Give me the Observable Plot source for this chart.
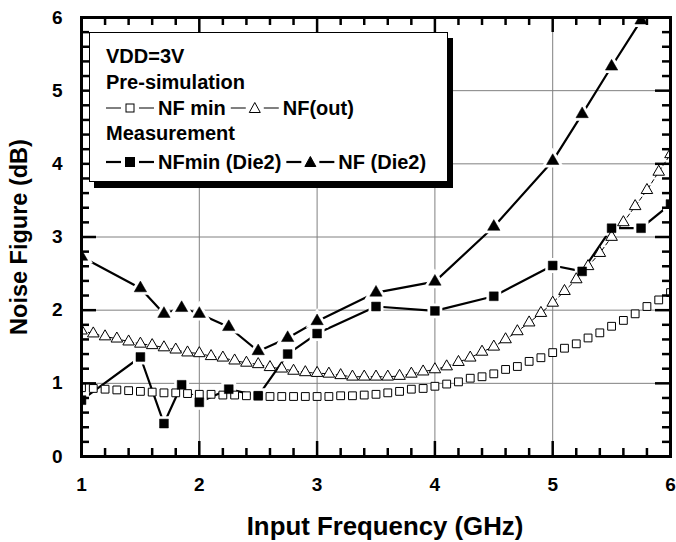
<!DOCTYPE html>
<html>
<head>
<meta charset="utf-8">
<script src="https://cdn.jsdelivr.net/npm/d3@7"></script>
<script src="https://cdn.jsdelivr.net/npm/@observablehq/plot@0.6"></script>
<style>
  body { margin: 0; background: #fff; }
  #chart { width: 676px; height: 542px; }
</style>
</head>
<body>
<div id="chart"></div>
<script>
// ---- data ----
const freqSim = [1.0,1.1,1.2,1.3,1.4,1.5,1.6,1.7,1.8,1.9,2.0,2.1,2.2,2.3,2.4,2.5,2.6,2.7,2.8,2.9,3.0,
                 3.1,3.2,3.3,3.4,3.5,3.6,3.7,3.8,3.9,4.0,4.1,4.2,4.3,4.4,4.5,4.6,4.7,4.8,4.9,5.0,
                 5.1,5.2,5.3,5.4,5.5,5.6,5.7,5.8,5.9,6.0];
const nfMinSim = [0.94,0.93,0.92,0.91,0.90,0.89,0.88,0.87,0.87,0.86,0.85,0.85,0.84,0.84,0.83,0.83,0.82,0.82,0.82,0.82,0.82,
                  0.82,0.83,0.83,0.84,0.85,0.87,0.89,0.92,0.93,0.96,0.99,1.02,1.07,1.09,1.13,1.19,1.23,1.30,1.35,1.42,
                  1.48,1.54,1.62,1.69,1.78,1.86,1.95,2.05,2.14,2.24];
const nfOutSim = [1.72,1.68,1.64,1.61,1.57,1.54,1.52,1.49,1.46,1.42,1.41,1.37,1.35,1.31,1.28,1.26,1.22,1.20,1.17,1.15,1.14,
                  1.13,1.11,1.09,1.09,1.09,1.09,1.10,1.13,1.16,1.19,1.23,1.29,1.35,1.43,1.50,1.60,1.71,1.83,1.96,2.10,
                  2.26,2.42,2.60,2.78,3.00,3.20,3.42,3.64,3.89,4.13];

const freqMeasMin = [1.0,1.5,1.7,1.85,2.0,2.25,2.5,2.75,3.0,3.5,4.0,4.5,5.0,5.25,5.5,5.75,6.0];
const nfMinDie2   = [0.77,1.36,0.45,0.98,0.74,0.92,0.83,1.40,1.68,2.05,1.99,2.19,2.61,2.53,3.12,3.12,3.45];
const freqMeasNF  = [1.0,1.5,1.7,1.85,2.0,2.25,2.5,2.75,3.0,3.5,4.0,4.5,5.0,5.25,5.5,5.75];
const nfDie2      = [2.73,2.30,1.95,2.03,1.95,1.77,1.44,1.62,1.85,2.24,2.39,3.14,4.04,4.68,5.33,5.96];

const xMajor = [1,2,3,4,5,6];
const xMinor = [1.2,1.4,1.6,1.8,2.2,2.4,2.6,2.8,3.2,3.4,3.6,3.8,4.2,4.4,4.6,4.8,5.2,5.4,5.6,5.8];
const yMajor = [0,1,2,3,4,5,6];
const yMinor = [0.2,0.4,0.6,0.8,1.2,1.4,1.6,1.8,2.2,2.4,2.6,2.8,3.2,3.4,3.6,3.8,4.2,4.4,4.6,4.8,5.2,5.4,5.6,5.8];

const xTitle = "Input Frequency (GHz)";
const yTitle = "Noise Figure (dB)";
const legendHead = ["VDD=3V", "Pre-simulation", "Measurement"];
const legendSim = ["NF min", "NF(out)"];
const legendMeas = ["NFmin (Die2)", "NF (Die2)"];

// ---- tables ----
const simMin = freqSim.map((f, i) => ({f, v: nfMinSim[i]}));
const simOut = freqSim.map((f, i) => ({f, v: nfOutSim[i]}));
const measMin = freqMeasMin.map((f, i) => ({f, v: nfMinDie2[i]}));
const measNF = freqMeasNF.map((f, i) => ({f, v: nfDie2[i]}));

// ---- layout ----
const W = 676, H = 542, mT = 17, mR = 6, mB = 86, mL = 81;
const FW = W - mL - mR, FH = H - mT - mB;
const tk = {stroke: "#000", strokeWidth: 2.5};
const tickMarks = [
  Plot.ruleX(xMajor, {x: d => d, insetTop: FH - 15, ...tk}),
  Plot.ruleX(xMinor, {x: d => d, insetTop: FH - 8, ...tk}),
  Plot.ruleX(xMajor, {x: d => d, insetBottom: FH - 15, ...tk}),
  Plot.ruleX(xMinor, {x: d => d, insetBottom: FH - 8, ...tk}),
  Plot.ruleY(yMajor, {y: d => d, insetRight: FW - 15, ...tk}),
  Plot.ruleY(yMinor, {y: d => d, insetRight: FW - 8, ...tk}),
  Plot.ruleY(yMajor, {y: d => d, insetLeft: FW - 15, ...tk}),
  Plot.ruleY(yMinor, {y: d => d, insetLeft: FW - 8, ...tk})
];

const chart = Plot.plot({
  width: W, height: H,
  marginTop: mT, marginRight: mR, marginBottom: mB, marginLeft: mL,
  x: {domain: [1, 6]},
  y: {domain: [0, 6]},
  style: {fontFamily: "'Liberation Sans', Arial, sans-serif", fontSize: "19px", fontWeight: "bold", color: "black", background: "white", overflow: "visible"},
  marks: [
    Plot.gridX(xMajor, {stroke: "#808080", strokeOpacity: 1, strokeWidth: 1}),
    Plot.gridY(yMajor, {stroke: "#808080", strokeOpacity: 1, strokeWidth: 1}),
    Plot.line(simOut, {x: "f", y: "v", stroke: "black", strokeWidth: 1, strokeDasharray: "4,3", clip: true}),
    Plot.line(measMin, {x: "f", y: "v", stroke: "black", strokeWidth: 2.2, clip: true}),
    Plot.line(measNF, {x: "f", y: "v", stroke: "black", strokeWidth: 2.2, clip: true}),
    Plot.dot(measMin, {x: "f", y: "v", symbol: "square", r: 5, fill: "white", stroke: "white", strokeWidth: 6, clip: true}),
    Plot.dot(measNF, {x: "f", y: "v", symbol: "triangle", r: 4.6, fill: "white", stroke: "white", strokeWidth: 6, clip: true}),
    Plot.dot(simMin, {x: "f", y: "v", symbol: "square", r: 4.4, fill: "white", stroke: "black", strokeWidth: 1, clip: true}),
    Plot.dot(simOut, {x: "f", y: "v", symbol: "triangle", r: 4.3, fill: "white", stroke: "black", strokeWidth: 1, clip: true}),
    Plot.dot(measMin, {x: "f", y: "v", symbol: "square", r: 5, fill: "black", stroke: "black", strokeWidth: 0.5, clip: true}),
    Plot.dot(measNF, {x: "f", y: "v", symbol: "triangle", r: 4.6, fill: "black", stroke: "black", strokeWidth: 0.5, clip: true}),
    Plot.axisX({ticks: xMajor, tickSize: 0, tickPadding: 21, tickFormat: d => d, label: null}),
    Plot.axisY({ticks: yMajor, tickSize: 0, tickPadding: 19, tickFormat: d => d, label: null}),
    ...tickMarks,
    Plot.frame({stroke: "black", strokeWidth: 3}),
    Plot.text([xTitle], {text: d => d, frameAnchor: "bottom", lineAnchor: "middle", textAnchor: "middle", dy: 70, dx: 9, fontSize: 25.8, fontWeight: "bold"}),
    Plot.text([yTitle], {text: d => d, frameAnchor: "left", lineAnchor: "middle", textAnchor: "middle", rotate: -90, dx: -62, fontSize: 23.5, fontWeight: "bold"})
  ]
});
document.getElementById("chart").appendChild(chart);

// ---- legend, drawn inside the same SVG ----
const L = {x: 89, y: 32, w: 359, h: 150, sx: 5, sy: 6, textX: 106};
const lg = d3.select(chart).append("g").attr("aria-label", "legend")
  .attr("font-family", "'Liberation Sans', Arial, sans-serif").attr("font-size", 20).attr("font-weight", "bold");
lg.append("rect").attr("x", L.x + L.sx).attr("y", L.y + L.sy).attr("width", L.w).attr("height", L.h).attr("fill", "#000");
lg.append("rect").attr("x", L.x + 0.5).attr("y", L.y + 0.5).attr("width", L.w - 1).attr("height", L.h - 1)
  .attr("fill", "#fff").attr("stroke", "#000").attr("stroke-width", 1);

function addText(x, base, s) {
  const t = lg.append("text").attr("x", x).attr("y", base).attr("text-anchor", "start").text(s);
  return x + t.node().getComputedTextLength();
}
function addSym(x, cy, kind, filled, thick) {
  const sw = thick ? 2.2 : 1;
  lg.append("line").attr("x1", x).attr("x2", x + 15).attr("y1", cy).attr("y2", cy).attr("stroke", "#000").attr("stroke-width", sw);
  lg.append("line").attr("x1", x + 33).attr("x2", x + 48).attr("y1", cy).attr("y2", cy).attr("stroke", "#000").attr("stroke-width", sw);
  const cx = x + 24;
  if (kind === "square") {
    const s = filled ? 9 : 8;
    lg.append("rect").attr("x", cx - s / 2).attr("y", cy - s / 2).attr("width", s).attr("height", s)
      .attr("fill", filled ? "#000" : "#fff").attr("stroke", "#000").attr("stroke-width", 1);
  } else {
    lg.append("path").attr("d", `M${cx},${cy - 5.5}L${cx + 5.5},${cy + 4.5}L${cx - 5.5},${cy + 4.5}Z`)
      .attr("fill", filled ? "#000" : "#fff").attr("stroke", "#000").attr("stroke-width", 1);
  }
  return x + 52;
}
addText(L.textX, 63, legendHead[0]);
addText(L.textX, 89, legendHead[1]);
{
  let x = addSym(L.textX, 108, "square", false, false);
  x = addText(x, 115, legendSim[0]) + 5;
  x = addSym(x, 108, "triangle", false, false);
  addText(x, 115, legendSim[1]);
}
addText(L.textX, 140, legendHead[2]);
{
  let x = addSym(L.textX, 162, "square", true, true);
  x = addText(x, 169, legendMeas[0]) + 5;
  x = addSym(x, 162, "triangle", true, true);
  addText(x, 169, legendMeas[1]);
}
</script>
</body>
</html>
